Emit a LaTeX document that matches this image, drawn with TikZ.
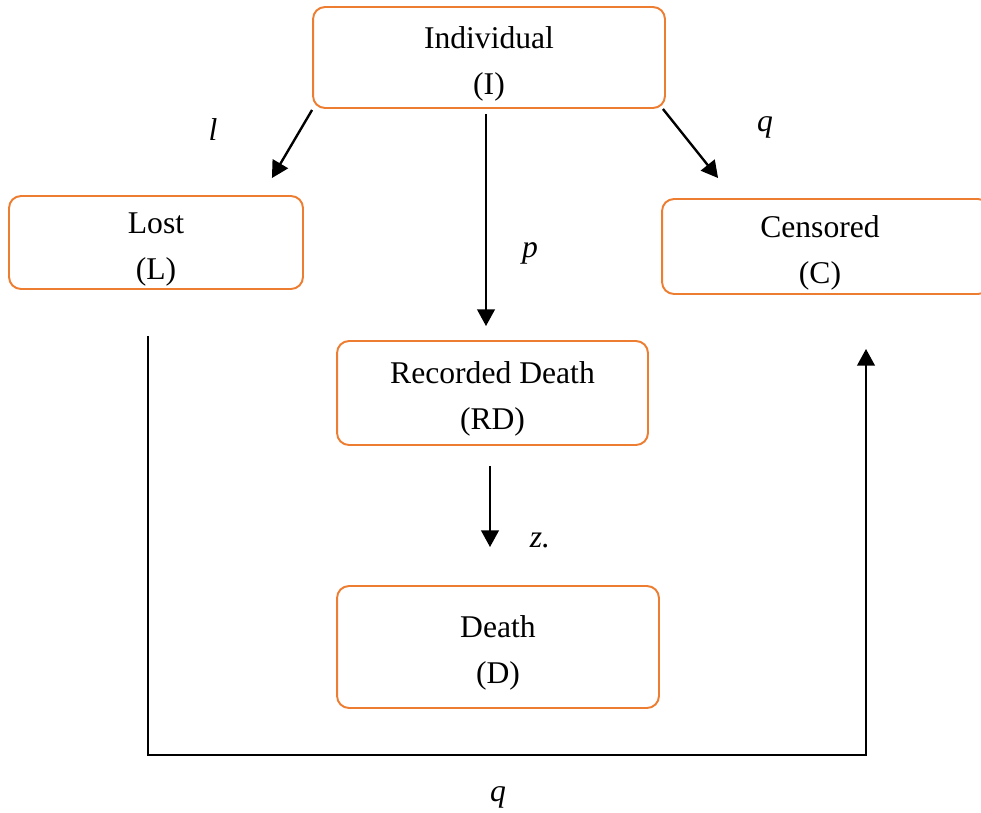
\documentclass[tikz,border=0pt]{standalone}
\usepackage{fontspec}
\setmainfont{Liberation Serif}
\usetikzlibrary{arrows.meta}
\definecolor{boxorange}{RGB}{237,125,49}
\newcommand{\topstrut}{\rule{0pt}{19.5pt}}

\begin{document}
\begin{tikzpicture}[x=0.02cm,y=-0.02cm,
  every node/.style={font=\fontsize{18pt}{26pt}\selectfont},
  box/.style={draw=boxorange,line width=1.1pt,rounded corners=0.24cm,align=center,inner sep=0pt},
  arr/.style={line width=1.35pt,line join=miter,-{Triangle[length=9.5pt,width=10pt]}},
  lbl/.style={font=\fontsize{18pt}{26pt}\selectfont\itshape}]
\useasboundingbox (0,0) rectangle (981,812);
  \node[box,minimum width=7.04cm,minimum height=2.02cm] (I) at (489,57.5) {\topstrut Individual\\(I)};
  \node[box,minimum width=5.88cm,minimum height=1.86cm] (L) at (156,242.5) {\topstrut Lost\\(L)};
  \node[box,minimum width=6.56cm,minimum height=1.9cm] (C) at (826,246.5) {\topstrut Censored\hspace*{0.24cm}\\(C)\hspace*{0.24cm}};
  \node[box,minimum width=6.22cm,minimum height=2.08cm] (RD) at (492.5,393) {\topstrut Recorded Death\\(RD)};
  \node[box,minimum width=6.44cm,minimum height=2.44cm] (D) at (498,647) {\topstrut Death\\(D)};
  \coordinate (bl) at (148,755);
  \coordinate (br) at (866,755);
  \draw[arr]([shift={(0,1)}]I.south west)--([shift={(-32,-17)}]L.north east);
  \draw[arr]([shift={(-3,5)}]I.south)--([shift={(-6.5,-14)}]RD.north);
  \draw[arr]([shift={(-3,0)}]I.south east)--([shift={(57,-20)}]C.north west);
  \draw[arr]([shift={(-2.5,20)}]RD.south)--([shift={(-8,-38)}]D.north);
  \draw[arr]([shift={(-8,46)}]L.south)--(bl)--(br)--([shift={(40,54)}]C.south);
  \node[lbl] (l) at (213,130) {l};
  \node[lbl] (p) at (530,253) {p};
  \node[lbl] (q1) at (765,127) {q};
  \node[lbl] (z) at (540,540) {z.};
  \node[lbl] (q2) at (498,797) {q};
\end{tikzpicture}
\end{document}
